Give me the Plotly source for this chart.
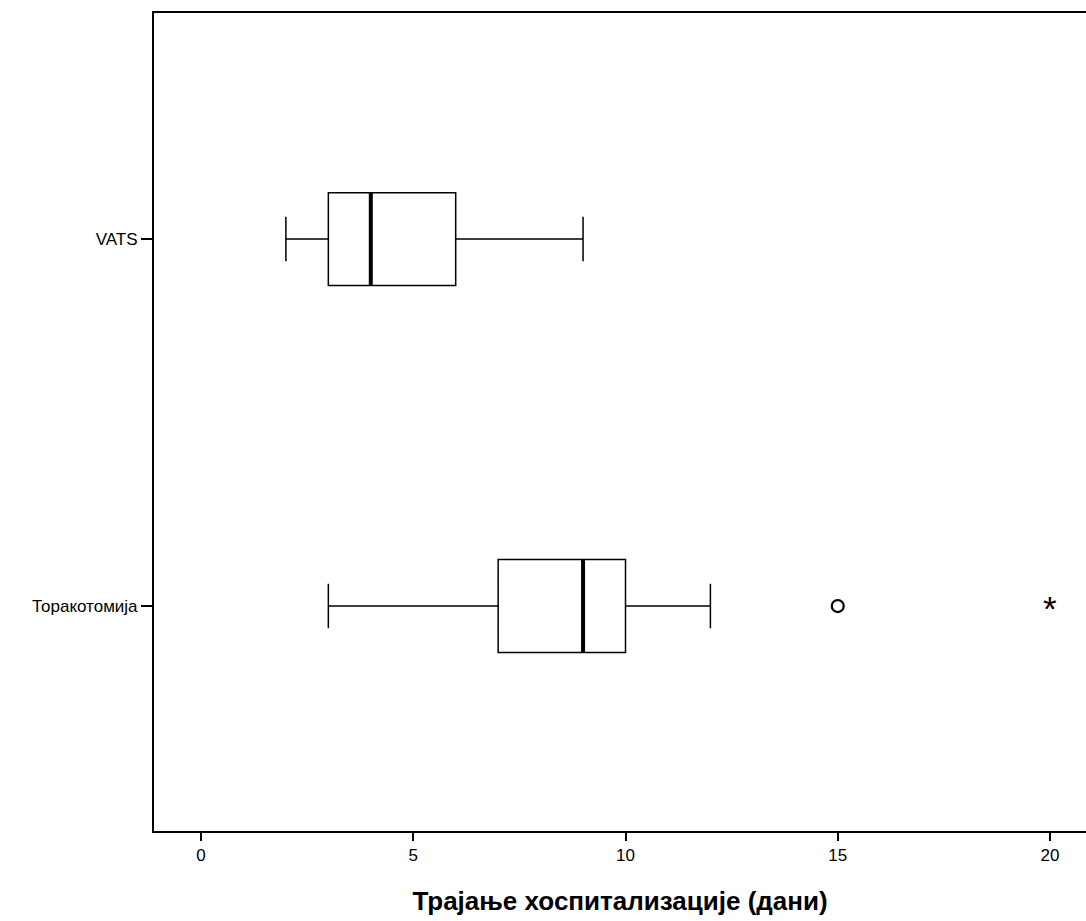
import plotly.graph_objects as go

# Data (days of hospitalization)
categories = ["VATS", "Торакотомија"]
positions = [1, 0]
lower_whisker = [2, 3]
q1_vals = [3, 7]
median_vals = [4, 9]
q3_vals = [6, 10]
upper_whisker = [9, 12]
outlier_x = [15]
outlier_group = ["Торакотомија"]
extreme_x = [20]
extreme_group = ["Торакотомија"]

x_ticks = [0, 5, 10, 15, 20]
x_title = "Трајање хоспитализације (дани)"

box_w = 0.253
pos_of = dict(zip(categories, positions))

fig = go.Figure()
for cat, p, lo, a, m, b, hi in zip(categories, positions, lower_whisker, q1_vals,
                                   median_vals, q3_vals, upper_whisker):
    fig.add_trace(go.Box(
        y=[p], q1=[a], median=[m], q3=[b], lowerfence=[lo], upperfence=[hi],
        orientation="h", width=box_w, whiskerwidth=0.48,
        fillcolor="white", line=dict(color="black", width=1.5),
        boxpoints=False, showlegend=False, hoverinfo="skip", name=cat,
    ))

# thick median lines
mx, my = [], []
for p, m in zip(positions, median_vals):
    mx += [m, m, None]
    my += [p - box_w / 2, p + box_w / 2, None]
fig.add_trace(go.Scatter(x=mx, y=my, mode="lines",
                         line=dict(color="black", width=4),
                         showlegend=False, hoverinfo="skip"))

fig.add_trace(go.Scatter(
    x=outlier_x, y=[pos_of[g] for g in outlier_group], mode="markers",
    marker=dict(symbol="circle-open", size=12, color="black",
                line=dict(width=2.2, color="black")),
    showlegend=False, hoverinfo="skip"))

# extreme values drawn as "*" glyphs
for xv, g in zip(extreme_x, extreme_group):
    fig.add_annotation(x=xv, y=pos_of[g], text="*", showarrow=False,
                       font=dict(size=35, color="black"),
                       xanchor="center", yanchor="middle", yshift=-2)

fig.update_layout(
    width=1086, height=921,
    margin=dict(l=154, r=0, t=13, b=90),
    paper_bgcolor="white", plot_bgcolor="white",
    font=dict(family="Liberation Sans, Arial, sans-serif", color="black", size=17),
)
fig.update_xaxes(
    range=[-1.107, 20.848], tickvals=x_ticks, ticktext=[str(t) for t in x_ticks],
    showgrid=False, zeroline=False, showline=True, linecolor="black", linewidth=2,
    mirror=True, ticks="outside", ticklen=8, tickwidth=2, tickcolor="black",
    tickfont=dict(size=17),
    title=dict(text=x_title, font=dict(size=26, weight="bold"), standoff=27),
)
fig.update_yaxes(
    range=[-0.613, 1.616], tickvals=positions, ticktext=categories,
    showgrid=False, zeroline=False, showline=True, linecolor="black", linewidth=2,
    ticks="outside", ticklen=11, tickwidth=2, tickcolor="black",
    tickfont=dict(size=17),
)

fig.write_html("out.html")
